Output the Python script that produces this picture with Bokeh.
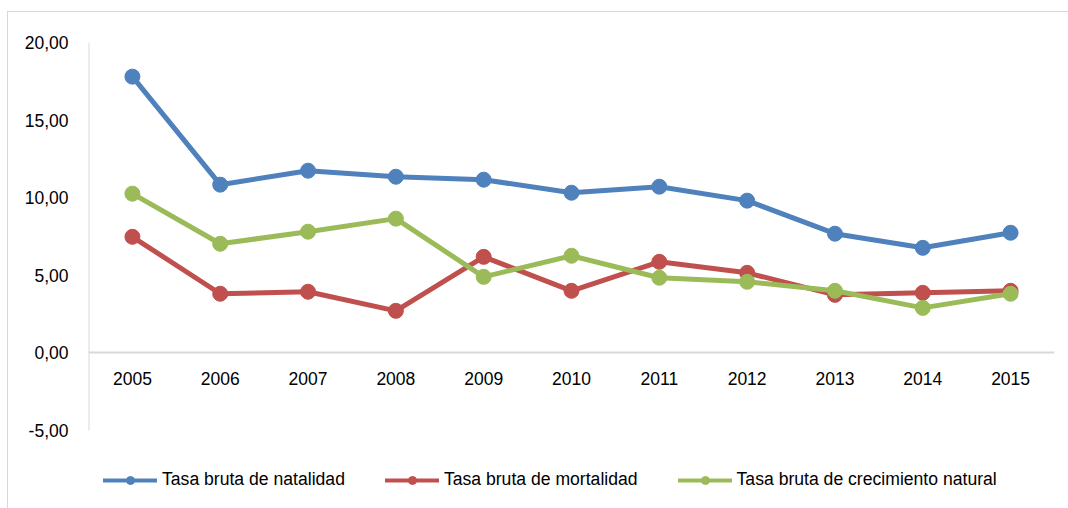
import math
from bokeh.plotting import figure
from bokeh.models import (FactorRange, Range1d, Legend, LegendItem,
                          CustomJSTickFormatter, FixedTicker)
from bokeh.embed import file_html
from bokeh.resources import INLINE

years = ["2005", "2006", "2007", "2008", "2009", "2010",
         "2011", "2012", "2013", "2014", "2015"]
natalidad = [17.80, 10.84, 11.74, 11.35, 11.16, 10.32, 10.71, 9.81, 7.68, 6.77, 7.74]
mortalidad = [7.48, 3.81, 3.94, 2.71, 6.19, 4.00, 5.87, 5.16, 3.74, 3.87, 4.00]
crecimiento = [10.26, 7.03, 7.81, 8.65, 4.90, 6.26, 4.84, 4.58, 4.00, 2.90, 3.81]
y_ticks = [-5, 0, 5, 10, 15, 20]
y_axis_min, y_axis_max = -5, 20
series_names = ["Tasa bruta de natalidad", "Tasa bruta de mortalidad",
                "Tasa bruta de crecimiento natural"]
colors = ["#4F81BD", "#C0504D", "#9BBB59"]

FONT = "Liberation Sans"
GRAY = "#d9d9d9"

# frame: 30..488 px (figure coords); 15.52 px per unit, top = 20
frame_h = 458
px_per_unit = 388 / 25
y_start = y_axis_max - frame_h / px_per_unit

p = figure(width=1060, height=496,
           x_range=FactorRange(*years), y_range=Range1d(y_start, y_axis_max),
           output_backend="svg", toolbar_location=None, title=None,
           min_border_left=80, min_border_right=14,
           min_border_top=30, min_border_bottom=8)
p.margin = (12, 0, 0, 8)
p.styles = {"outline": "1px solid " + GRAY}
p.outline_line_color = None
p.grid.visible = False
p.background_fill_color = "white"
p.border_fill_color = "white"

# x axis at y = 0
p.xaxis.fixed_location = 0
p.xaxis.axis_line_color = GRAY
p.xaxis.axis_line_width = 2
p.xaxis.major_tick_line_color = None
p.xaxis.minor_tick_line_color = None
p.xaxis.major_label_standoff = 13
p.xaxis.major_label_text_font = FONT
p.xaxis.major_label_text_font_size = "17.5px"
p.xaxis.major_label_text_color = "#000000"

p.yaxis.ticker = FixedTicker(ticks=y_ticks)
p.yaxis.formatter = CustomJSTickFormatter(code="return tick.toFixed(2).replace('.', ',');")
p.yaxis.axis_line_color = None
p.yaxis.major_tick_line_color = None
p.yaxis.minor_tick_line_color = None
p.yaxis.major_tick_out = 0
p.yaxis.major_label_standoff = 20
p.yaxis.major_label_text_font = FONT
p.yaxis.major_label_text_font_size = "17.5px"
p.yaxis.major_label_text_color = "#000000"

# visible y-axis line only from -5 to 20 (synthetic x = 0 is the frame's left edge)
p.segment(x0=[0], y0=[y_axis_min], x1=[0], y1=[y_axis_max],
          line_color=GRAY, line_width=2)

items = []
for vals, name, col in zip([natalidad, mortalidad, crecimiento], series_names, colors):
    p.line(years, vals, line_color=col, line_width=5, line_join="round", line_cap="round")
    p.scatter(years, vals, size=15, fill_color=col, line_color=col, marker="circle")
    # legend-only glyphs (no visible data)
    lr = p.line([years[0]], [math.nan], line_color=col, line_width=4, line_cap="round")
    sr = p.scatter([years[0]], [math.nan], size=10, fill_color=col, line_color=col, marker="circle")
    items.append(LegendItem(label=name, renderers=[lr, sr]))

legend = Legend(items=items, orientation="horizontal", location=(15, 10),
                glyph_width=54, glyph_height=20, label_standoff=5, spacing=40,
                padding=0, margin=0, border_line_alpha=0, background_fill_alpha=0,
                label_text_font=FONT, label_text_font_size="17.6px",
                label_text_color="#000000", label_height=20)
p.add_layout(legend)

open("out.html", "w").write(file_html(p, INLINE))
